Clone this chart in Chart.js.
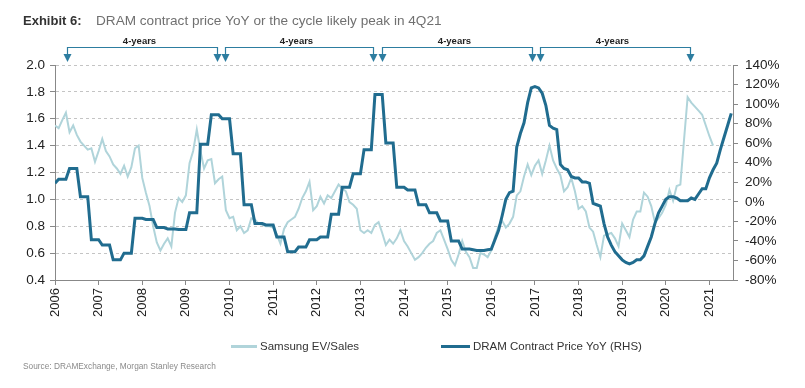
<!DOCTYPE html>
<html>
<head>
<meta charset="utf-8">
<script src="https://cdn.jsdelivr.net/npm/chart.js@4.4.1/dist/chart.umd.min.js"></script>
<style>
  html, body { margin: 0; padding: 0; background: #fff; }
  #wrap { width: 805px; height: 388px; position: relative; }
</style>
</head>
<body>
<div id="wrap"><canvas id="myChart" width="805" height="388"></canvas></div>
<script>
// monthly series, first point = Jan 2006
const startYear = 2006;

// Samsung EV/Sales (LHS, x)
const samsungEvSales = [
  1.55, 1.53, 1.59, 1.645, 1.50, 1.55, 1.48, 1.43, 1.40, 1.37, 1.38, 1.28,
  1.36, 1.45, 1.36, 1.32, 1.26, 1.23, 1.19, 1.25, 1.17, 1.24, 1.38, 1.40,
  1.16, 1.05, 0.95, 0.80, 0.68, 0.62, 0.67, 0.71, 0.65, 0.90, 1.01, 0.98,
  1.03, 1.27, 1.36, 1.52, 1.36, 1.23, 1.29, 1.30, 1.12, 1.15, 1.17, 0.92,
  0.86, 0.87, 0.77, 0.80, 0.75, 0.77, 0.86, 0.85, 0.82, 0.81, 0.80, 0.80,
  0.79, 0.74, 0.67, 0.78, 0.83, 0.85, 0.87, 0.93, 1.01, 1.06, 1.13, 0.92,
  0.95, 1.02, 0.97, 1.03, 1.01, 1.06, 1.11, 1.08, 1.06, 0.98, 0.96, 0.93,
  0.77, 0.75, 0.77, 0.75, 0.81, 0.83, 0.75, 0.66, 0.70, 0.67, 0.71, 0.77,
  0.69, 0.65, 0.60, 0.55, 0.57, 0.60, 0.64, 0.67, 0.69, 0.75, 0.77, 0.70,
  0.63, 0.55, 0.51, 0.59, 0.69, 0.61, 0.57, 0.49, 0.49, 0.60, 0.59, 0.57,
  0.62, 0.72, 0.80, 0.84, 0.79, 0.82, 0.87, 1.03, 1.06, 1.17, 1.26, 1.18,
  1.25, 1.29, 1.19, 1.29, 1.40, 1.29, 1.23, 1.18, 1.06, 1.09, 1.16, 1.06,
  0.93, 0.95, 0.91, 0.79, 0.76, 0.66, 0.57, 0.73, 0.74, 0.75, 0.71, 0.65,
  0.82, 0.77, 0.72, 0.85, 0.91, 0.91, 1.05, 1.02, 0.95, 0.83, 0.86, 0.90,
  0.96, 1.07, 0.99, 1.10, 1.11, 1.44, 1.76, 1.72, 1.69, 1.66, 1.63, 1.55,
  1.47, 1.40
];

// DRAM contract price YoY, % (RHS)
const dramYoY = [
  19.0, 23.1, 23.1, 23.1, 34.1, 34.1, 34.1, 5.3, 5.3, 5.3, -38.8, -38.8,
  -38.8, -44.3, -44.3, -44.3, -59.4, -59.4, -59.4, -52.5, -52.5, -52.5, -16.8, -16.8,
  -16.8, -18.1, -18.1, -18.1, -26.4, -26.4, -26.4, -27.8, -27.8, -27.8, -28.4, -28.4,
  -28.4, -11.3, -11.3, -11.3, 58.9, 58.9, 58.9, 89.1, 89.1, 89.1, 85.0, 85.0,
  85.0, 49.3, 49.3, 49.3, -3.0, -3.0, -3.0, -22.3, -22.3, -22.3, -23.6, -23.6,
  -23.6, -36.0, -36.0, -36.0, -51.1, -51.1, -51.1, -46.3, -46.3, -46.3, -38.8, -38.8,
  -38.8, -36.0, -36.0, -36.0, -12.6, -12.6, -12.6, 14.9, 14.9, 14.9, 28.6, 28.6,
  28.6, 53.4, 53.4, 53.4, 109.8, 109.8, 109.8, 60.3, 60.3, 60.3, 14.9, 14.9,
  14.9, 12.1, 12.1, 12.1, -3.0, -3.0, -3.0, -11.3, -11.3, -11.3, -19.5, -19.5,
  -19.5, -40.1, -40.1, -40.1, -48.4, -48.4, -48.4, -49.1, -49.8, -49.8, -49.8, -49.1,
  -48.4, -38.8, -29.1, -14.0, 2.5, 9.4, 10.8, 56.1, 69.9, 80.9, 101.5, 116.6,
  118.0, 116.6, 111.1, 98.8, 78.1, 75.4, 74.0, 38.3, 34.1, 32.8, 25.9, 24.5,
  24.5, 20.4, 20.4, 19.0, -1.6, -3.0, -4.4, -22.3, -36.0, -44.3, -51.1, -55.3,
  -59.4, -62.1, -63.5, -62.1, -59.4, -59.4, -55.3, -45.6, -36.0, -22.3, -11.3, -4.4,
  2.5, 5.3, 5.3, 3.9, 1.1, 1.1, 1.1, 3.9, 2.5, 8.0, 13.5, 13.5,
  24.5, 32.8, 39.6, 53.4, 65.8, 78.1, 90.5
];

const yearTicks = [2006, 2007, 2008, 2009, 2010, 2011, 2012, 2013, 2014, 2015, 2016, 2017, 2018, 2019, 2020, 2021];
// 4-year cycle brackets (start, end) in decimal years
const cycleSpans = [[2006.28, 2009.71], [2009.90, 2013.29], [2013.49, 2016.93], [2017.12, 2020.55]];
const cycleLabel = '4-years';

const lightTeal = 'rgb(176,212,218)';
const darkTeal = 'rgb(32,108,143)';
const arrowBlue = 'rgb(45,125,160)';

const toPoints = (arr) => arr.map((v, i) => ({x: startYear + i / 12, y: v}));

const extras = {
  id: 'extras',
  afterDraw(chart) {
    const {ctx, scales: {x}} = chart;
    ctx.save();
    // title
    ctx.textBaseline = 'alphabetic';
    ctx.fillStyle = '#333';
    ctx.font = 'bold 13px "Liberation Sans", Arial, sans-serif';
    ctx.fillText('Exhibit 6:', 23, 25);
    ctx.fillStyle = '#707070';
    ctx.font = '13.6px "Liberation Sans", Arial, sans-serif';
    ctx.fillText('DRAM contract price YoY or the cycle likely peak in 4Q21', 96, 25);

    // cycle brackets
    ctx.strokeStyle = arrowBlue;
    ctx.fillStyle = arrowBlue;
    ctx.lineWidth = 1.2;
    cycleSpans.forEach(([a, b]) => {
      const x1 = Math.round(x.getPixelForValue(a)) + 0.5;
      const x2 = Math.round(x.getPixelForValue(b)) + 0.5;
      ctx.beginPath();
      ctx.moveTo(x1, 56); ctx.lineTo(x1, 47.5); ctx.lineTo(x2, 47.5); ctx.lineTo(x2, 56);
      ctx.stroke();
      [x1, x2].forEach(px => {
        ctx.beginPath();
        ctx.moveTo(px - 4, 54); ctx.lineTo(px + 4, 54); ctx.lineTo(px, 62);
        ctx.closePath();
        ctx.fill();
      });
      ctx.save();
      ctx.fillStyle = '#222';
      ctx.font = 'bold 9.5px "Liberation Sans", Arial, sans-serif';
      ctx.textAlign = 'center';
      ctx.fillText(cycleLabel, (x1 + x2) / 2 - 3, 44);
      ctx.restore();
    });

    // legend
    ctx.lineWidth = 3;
    ctx.strokeStyle = lightTeal;
    ctx.beginPath(); ctx.moveTo(231, 346.5); ctx.lineTo(257, 346.5); ctx.stroke();
    ctx.strokeStyle = darkTeal;
    ctx.beginPath(); ctx.moveTo(441, 346.5); ctx.lineTo(470, 346.5); ctx.stroke();
    ctx.fillStyle = '#333';
    ctx.font = '11.5px "Liberation Sans", Arial, sans-serif';
    ctx.textBaseline = 'middle';
    ctx.fillText('Samsung EV/Sales', 260, 347);
    ctx.fillText('DRAM Contract Price YoY (RHS)', 473, 347);

    // source
    ctx.fillStyle = '#8a8a8a';
    ctx.font = '8.3px "Liberation Sans", Arial, sans-serif';
    ctx.fillText('Source: DRAMExchange, Morgan Stanley Research', 23, 367);
    ctx.restore();
  }
};

const tickFont = {family: '"Liberation Sans", Arial, sans-serif', size: 13.5};

const config = {
  type: 'line',
  data: {
    datasets: [
      {label: 'DRAM Contract Price YoY (RHS)', data: toPoints(dramYoY), yAxisID: 'y1',
       borderColor: darkTeal, borderWidth: 3, pointRadius: 0, tension: 0, order: 1},
      {label: 'Samsung EV/Sales', data: toPoints(samsungEvSales), yAxisID: 'y',
       borderColor: lightTeal, borderWidth: 2, pointRadius: 0, tension: 0, order: 2}
    ]
  },
  options: {
    responsive: false,
    animation: false,
    layout: {padding: {top: 65, left: 0, right: 0, bottom: 0}},
    scales: {
      x: {
        type: 'linear', min: 2006, max: 2021.54,
        afterBuildTicks: (s) => { s.ticks = yearTicks.map(v => ({value: v})); },
        afterFit: (s) => { s.height = 108; },
        ticks: {color: '#222', font: {family: tickFont.family, size: 13}, minRotation: 90, maxRotation: 90,
                padding: 3, callback: (v) => String(v)},
        grid: {drawOnChartArea: false, drawTicks: true, tickLength: 5, color: '#888'},
        border: {color: '#888'}
      },
      y: {
        position: 'left', min: 0.4, max: 2.0,
        afterFit: (s) => { s.width = 55; },
        ticks: {stepSize: 0.2, color: '#222', font: tickFont, padding: 5, callback: (v) => v.toFixed(1)},
        grid: {color: '#c4c4c4', lineWidth: 1, tickLength: 5, tickColor: '#888', drawTicks: true},
        border: {color: '#888', dash: [3, 3]}
      },
      y1: {
        position: 'right', min: -80, max: 140,
        afterFit: (s) => { s.width = 72; },
        ticks: {stepSize: 20, color: '#222', font: tickFont, padding: 7, callback: (v) => v + '%'},
        grid: {drawOnChartArea: false, tickLength: 5, color: '#888'},
        border: {color: '#888'}
      }
    },
    plugins: {legend: {display: false}, tooltip: {enabled: false}}
  },
  plugins: [extras]
};
const myChart = new Chart(document.getElementById('myChart'), config);
</script>
</body>
</html>
